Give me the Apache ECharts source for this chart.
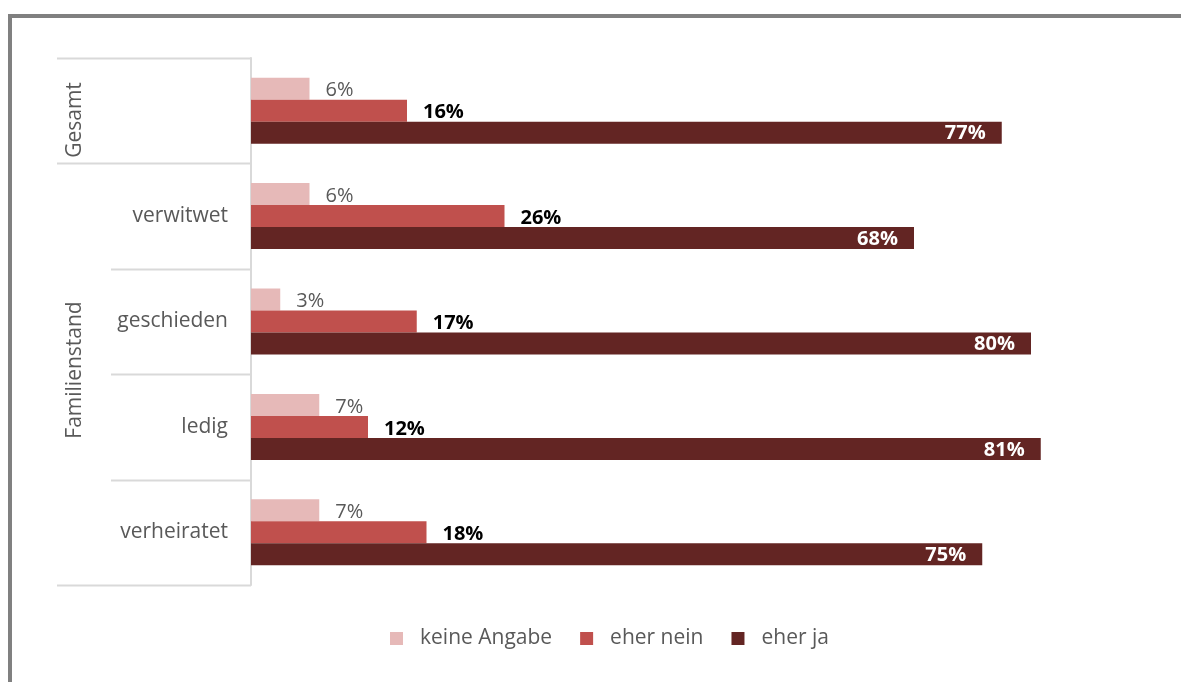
<!DOCTYPE html>
<html lang="de">
<head>
    <meta charset="utf-8">
    <title>Familienstand</title>
    <script src="https://cdn.jsdelivr.net/npm/echarts@6/dist/echarts.min.js"></script>
    <style>
        html, body { margin: 0; padding: 0; background: #fff; }
        #chart { width: 1181px; height: 682px; }
    </style>
</head>
<body>
<div id="chart"></div>
<script>
    // Kategorien von oben nach unten
    var categories = ['', 'verwitwet', 'geschieden', 'ledig', 'verheiratet'];
    var keineAngabe = [6, 6, 3, 7, 7];
    var eherNein = [16, 26, 17, 12, 18];
    var eherJa = [77, 68, 80, 81, 75];
    var seriesNames = ['keine Angabe', 'eher nein', 'eher ja'];

    var font = '"Open Sans", sans-serif';
    var gridTop = 58, gridHeight = 527, gridLeft = 251;
    var band = gridHeight / categories.length;
    var lineColor = '#d9d9d9';

    // Tabellenlinien links neben der Achse
    var graphics = [];
    for (var i = 0; i <= categories.length; i++) {
        var y = Math.round(gridTop + i * band) + 0.5;
        var x0 = (i === 0 || i === 1 || i === categories.length) ? 57 : 111;
        graphics.push({
            type: 'line',
            shape: { x1: x0, y1: y, x2: gridLeft, y2: y },
            style: { stroke: lineColor, lineWidth: 2 }
        });
    }
    // Gruppenbeschriftungen
    graphics.push({
        type: 'text', x: 75, y: 120, rotation: Math.PI / 2,
        style: { text: 'Gesamt', font: '21px ' + font, fill: '#595959', align: 'center', verticalAlign: 'middle' }
    });
    graphics.push({
        type: 'text', x: 75, y: 370, rotation: Math.PI / 2,
        style: { text: 'Familienstand', font: '21px ' + font, fill: '#595959', align: 'center', verticalAlign: 'middle' }
    });
    // Rahmen
    graphics.push({
        type: 'rect', shape: { x: 10, y: 16, width: 1300, height: 1000 },
        style: { fill: 'none', stroke: '#808080', lineWidth: 4 }
    });

    var chart = echarts.init(document.getElementById('chart'));
    chart.setOption({
        animation: false,
        textStyle: { fontFamily: font },
        grid: { left: gridLeft, top: gridTop, height: gridHeight, width: 877.5 },
        legend: {
            data: seriesNames,
            left: 385,
            top: 623,
            icon: 'rect',
            itemWidth: 13,
            itemHeight: 13,
            itemGap: 28,
            textStyle: { fontSize: 21, color: '#595959', padding: [0, 0, 0, 12] }
        },
        xAxis: {
            type: 'value', min: 0, max: 90,
            show: false
        },
        yAxis: {
            type: 'category',
            data: categories,
            inverse: true,
            axisLine: { lineStyle: { color: lineColor, width: 2 } },
            axisTick: { show: false },
            axisLabel: { fontSize: 21, color: '#595959', margin: 23 }
        },
        graphic: graphics,
        series: [
            {
                name: seriesNames[0], type: 'bar', data: keineAngabe,
                barWidth: 22, barGap: '0%',
                itemStyle: { color: '#e6b9b8' },
                label: { show: true, position: 'right', distance: 16, offset: [0, 2], formatter: '{c}%', fontSize: 20, color: '#595959' }
            },
            {
                name: seriesNames[1], type: 'bar', data: eherNein,
                barWidth: 22, barGap: '0%',
                itemStyle: { color: '#c0504d' },
                label: { show: true, position: 'right', distance: 16, offset: [0, 2], formatter: '{c}%', fontSize: 20, fontWeight: 'bold', color: '#000' }
            },
            {
                name: seriesNames[2], type: 'bar', data: eherJa,
                barWidth: 22, barGap: '0%',
                itemStyle: { color: '#632523' },
                label: { show: true, position: 'insideRight', distance: 16, offset: [0, 1], formatter: '{c}%', fontSize: 20, fontWeight: 'bold', color: '#fff' }
            }
        ]
    });
</script>
</body>
</html>
